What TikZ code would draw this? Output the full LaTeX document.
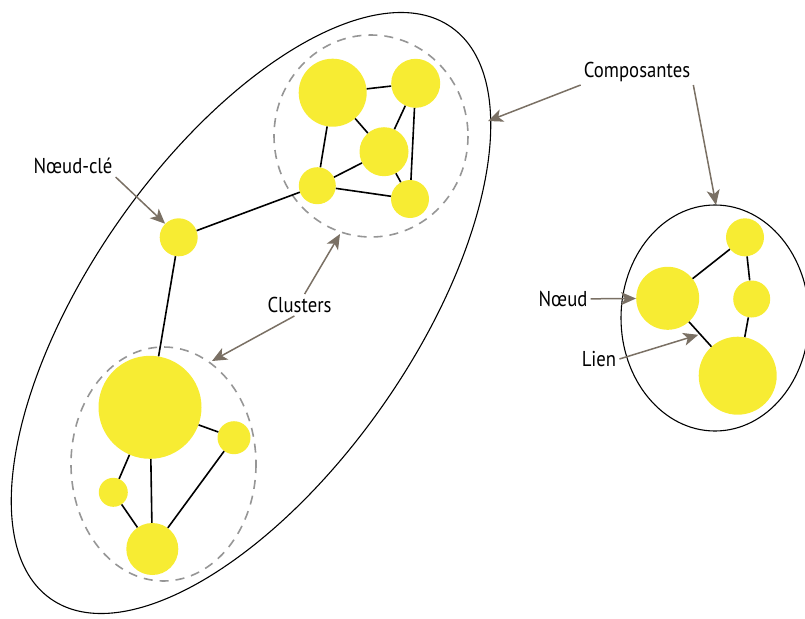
\documentclass[tikz,border=0pt]{standalone}
\usepackage{fontspec}
\setmainfont{PT Sans}[FakeStretch=0.87]
\usepackage{tikz}
\usepackage{xcolor}
\usetikzlibrary{arrows.meta,positioning,calc}
\definecolor{nodeYellow}{RGB}{247,236,51}
\definecolor{pointerBrown}{RGB}{122,112,100}
\definecolor{clusterGray}{RGB}{150,150,150}

\begin{document}
\begin{tikzpicture}[
            x=1pt, y=-1pt,
            dot/.style={circle, fill=nodeYellow, inner sep=0pt, minimum size=#1},
            link/.style={line width=1.6pt},
            component/.style={line width=1.1pt},
            cluster/.style={clusterGray, line width=1.6pt, dash pattern=on 9pt off 7pt},
            pointer/.style={-{Stealth[length=15pt,width=13pt,inset=4pt]}, line width=1.5pt, pointerBrown},
            callout/.style={font=\fontsize{21.5}{25}\selectfont, inner sep=3pt}
        ]
            \useasboundingbox (0,0) rectangle (805,618);

            \draw[component, rotate around={55:(251,313)}] (251,313) ellipse [x radius=349, y radius=161];
            \draw[component] (715,318) ellipse [x radius=94, y radius=113];
            \draw[cluster] (371,136) ellipse [x radius=97, y radius=101];
            \draw[cluster] (163.5,464) ellipse [x radius=92.5, y radius=117];

            \node[dot=68pt] (topBig) at (332.7,92.7) {};
            \node[dot=49pt] (topRight) at (415.7,83.3) {};
            \node[dot=49pt] (topMid) at (384,151.7) {};
            \node[dot=37pt] (topLeft) at (317.3,185.7) {};
            \node[dot=38pt] (topLow) at (410,199) {};
            \node[dot=38pt] (key) at (178.7,237.3) {};
            \node[dot=103pt] (hub) at (150,407.3) {};
            \node[dot=33pt] (hubSide) at (234,437.7) {};
            \node[dot=29pt] (hubLeft) at (113.3,492.3) {};
            \node[dot=52pt] (hubBase) at (152.3,549) {};
            \node[dot=38pt] (rightTop) at (745,237.3) {};
            \node[dot=63pt] (rightLeft) at (667.7,298.3) {};
            \node[dot=37pt] (rightMid) at (751.7,299) {};
            \node[dot=78pt] (rightBase) at (737.7,375.7) {};

            \draw[link] (topBig) -- (topRight);
            \draw[link] (topBig) -- (topMid);
            \draw[link] (topBig) -- (topLeft);
            \draw[link] (topRight) -- (topMid);
            \draw[link] (topRight) -- (topLow);
            \draw[link] (topMid) -- (topLeft);
            \draw[link] (topMid) -- (topLow);
            \draw[link] (topLeft) -- (topLow);
            \draw[link] (topLeft) -- (key);
            \draw[link] (key) -- (hub);
            \draw[link] (hub) -- (hubSide);
            \draw[link] (hub) -- (hubLeft);
            \draw[link] (hub) -- (hubBase);
            \draw[link] (hubLeft) -- (hubBase);
            \draw[link] (hubSide) -- (hubBase);
            \draw[link] (rightLeft) -- (rightTop);
            \draw[link] (rightTop) -- (rightMid);
            \draw[link] (rightMid) -- (rightBase);
            \draw[link] (rightLeft) -- (rightBase) coordinate[midway] (linkMid);

            \node[callout] (keyTag) at (73,166) {Nœud-clé};
            \node[callout] (compTag) at (637,72) {Composantes};
            \node[callout] (nodeTag) at (563,299) {Nœud};
            \node[callout] (linkTag) at (599,359) {Lien};
            \node[callout] (clusterTag) at (299.5,305) {Clusters};

            \coordinate (compLeftTip) at (488,121);
            \coordinate (compRightTop) at (716,205);
            \coordinate (clusterTopTip) at (340,234);
            \coordinate (clusterLowTip) at (212,361);

            \draw[pointer] (keyTag.south east) -- (key.north west);
            \draw[pointer] (compTag.south west) -- (compLeftTip);
            \draw[pointer] (compTag.south east) -- (compRightTop);
            \draw[pointer] (nodeTag) -- (rightLeft);
            \draw[pointer, shorten >=2pt] (linkTag.east) -- (linkMid);
            \draw[pointer] (clusterTag.65) -- (clusterTopTip);
            \draw[pointer] (clusterTag.245) -- (clusterLowTip);
        \end{tikzpicture}
\end{document}
